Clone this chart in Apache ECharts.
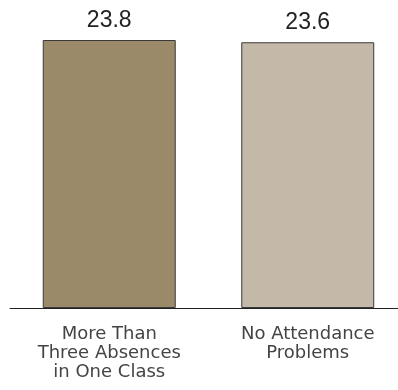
<!DOCTYPE html>
<html>
<head>
<meta charset="utf-8">
<script src="https://cdn.jsdelivr.net/npm/echarts@6/dist/echarts.min.js"></script>
<style>
  html, body { margin: 0; padding: 0; background: #fff; }
  #main { width: 398px; height: 390px; }
</style>
</head>
<body>
<div id="main"></div>
<script>
var categories = ['More Than\nThree Absences\nin One Class', 'No Attendance\nProblems'];
var values = [23.8, 23.6];
var barColors = ['#9b8a69', '#c4b8a8'];

var chart = echarts.init(document.getElementById('main'));
chart.setOption({
  animation: false,
  grid: { left: 10, top: 40, width: 397, bottom: 82, outerBoundsMode: 'none', containLabel: false },
  xAxis: {
    type: 'category',
    data: categories,
    axisLine: { lineStyle: { color: '#222', width: 1 } },
    axisTick: { show: false },
    axisLabel: {
      color: '#444',
      fontFamily: 'DejaVu Sans',
      fontSize: 18,
      lineHeight: 19,
      margin: 17,
      interval: 0
    }
  },
  yAxis: {
    type: 'value',
    min: 0,
    max: 23.8,
    show: false
  },
  series: [{
    type: 'bar',
    barWidth: '67%',
    data: values.map(function (v, i) {
      return { value: v, itemStyle: { color: barColors[i] } };
    }),
    itemStyle: { borderColor: '#3a3a3a', borderWidth: 1 },
    label: {
      show: true,
      position: 'top',
      distance: 8,
      color: '#222',
      fontFamily: 'Liberation Sans',
      fontSize: 23,
      formatter: function (p) { return p.value.toFixed(1); }
    }
  }]
});
</script>
</body>
</html>
